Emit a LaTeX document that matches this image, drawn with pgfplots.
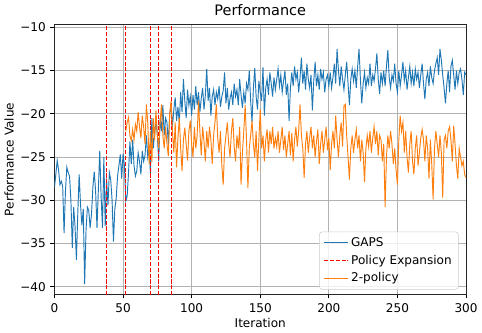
\documentclass[border=0pt]{standalone}
\usepackage{fontspec}
\setmainfont{DejaVu Sans}
\usepackage{pgfplots}
\pgfplotsset{compat=1.18}
\definecolor{tabblue}{HTML}{1F77B4}
\definecolor{taborange}{HTML}{FF7F0E}
\begin{document}
\begin{tikzpicture}
\begin{axis}[
  scale only axis, width=307.5pt, height=201.75pt,
  xmin=0, xmax=300, ymin=-40.9, ymax=-9.65,
  xtick={0,50,...,300}, ytick={-40,-35,...,-10},
  yticklabels={−40,−35,−30,−25,−20,−15,−10},
  /pgf/number format/assume math mode=true,
  tick label style={font=\fontsize{9}{10}\selectfont},
  label style={font=\fontsize{9}{10}\selectfont},
  title style={font=\fontsize{10.8}{12}\selectfont, yshift=-3pt},
  title=Performance, xlabel=Iteration, ylabel=Performance Value,
  xlabel style={yshift=2pt}, ylabel style={yshift=-2pt},
  grid=major, grid style={color=black!30, line width=0.6pt},
  axis line style={line width=0.7pt, black!85}, tick style={black, line width=0.6pt},
  tick align=outside, tick pos=left, major tick length=3pt,
  unbounded coords=jump,
  legend style={at={(0.982,0.018)}, anchor=south east, font=\fontsize{9}{10}\selectfont,
    draw=black!20, rounded corners=2pt, fill=white, fill opacity=0.8, text opacity=1,
    row sep=1pt, inner xsep=3pt, inner ysep=2pt},
  legend cell align=left,
  legend image code/.code={\draw[#1] (0pt,0pt) -- (18pt,0pt);},
]
\addplot[tabblue, line width=0.7pt] table {
0 -28.5
1 -27.0
2 -25.4
3 -26.5
4 -28.2
5 -27.8
6 -28.4
7 -33.8
8 -29.0
9 -26.2
10 -26.8
11 -27.2
12 -30.1
13 -35.5
14 -30.8
15 -33.0
16 -36.9
17 -31.5
18 -27.0
19 -30.5
20 -32.9
21 -31.0
22 -39.7
23 -33.5
24 -30.8
25 -31.2
26 -33.2
27 -31.6
28 -28.5
29 -26.7
30 -29.0
31 -33.2
32 -28.8
33 -24.3
34 -29.5
35 -33.2
36 -25.0
37 -33.0
38 -27.5
39 -30.6
40 -26.8
41 -27.6
42 -30.0
43 -34.8
44 -31.0
45 -29.8
46 -27.2
47 -26.0
48 -24.7
49 -27.5
50 -24.6
51 -26.0
52 -30.1
53 -29.5
54 -26.8
55 -23.2
56 -25.8
57 -23.0
58 -26.0
59 -27.2
60 -26.6
61 -24.5
62 -25.5
63 -27.0
64 -24.3
65 -25.5
66 -24.8
67 -22.5
68 -25.0
69 -24.0
70 -27.0
71 -20.5
72 -24.0
73 -22.3
74 -20.8
75 -22.5
76 -25.5
77 -20.5
78 -22.0
79 -19.0
80 -22.5
81 -20.5
82 -21.0
83 -23.5
84 -20.0
85 -19.0
86 -21.5
87 -19.5
88 -18.1
89 -20.8
90 -19.2
91 -21.0
92 -17.5
93 -19.8
94 -16.0
95 -18.5
96 -20.5
97 -17.2
98 -19.0
99 -18.0
100 -20.2
101 -17.8
102 -19.5
103 -16.8
104 -19.0
105 -17.5
106 -19.8
107 -18.2
108 -17.0
109 -19.5
110 -17.8
111 -14.8
112 -18.5
113 -17.0
114 -20.2
115 -18.0
116 -17.2
117 -19.0
118 -17.5
119 -18.3
120 -16.8
121 -19.2
122 -18.0
123 -17.3
124 -15.2
125 -18.8
126 -17.0
127 -19.5
128 -18.2
129 -17.5
130 -19.0
131 -16.5
132 -18.0
133 -17.2
134 -19.0
135 -16.0
136 -17.8
137 -19.3
138 -17.5
139 -18.8
140 -16.5
141 -17.2
142 -15.0
143 -18.5
144 -21.0
145 -17.0
146 -14.7
147 -18.0
148 -19.5
149 -16.2
150 -17.5
151 -18.5
152 -14.6
153 -20.2
154 -17.0
155 -16.0
156 -17.8
157 -15.2
158 -16.5
159 -18.0
160 -15.8
161 -17.2
162 -16.0
163 -14.8
164 -16.8
165 -15.5
166 -17.5
167 -16.2
168 -15.0
169 -17.8
170 -16.5
171 -20.8
172 -17.0
173 -15.2
174 -16.8
175 -14.5
176 -16.0
177 -15.2
178 -17.5
179 -15.8
180 -13.5
181 -16.5
182 -15.0
183 -17.2
184 -14.2
185 -16.0
186 -17.0
187 -15.5
188 -19.6
189 -16.2
190 -14.0
191 -16.8
192 -15.5
193 -17.2
194 -14.8
195 -16.0
196 -15.2
197 -17.5
198 -16.0
199 -15.5
200 -16.8
201 -15.2
202 -17.0
203 -15.8
204 -14.2
205 -16.5
206 -12.5
207 -15.0
208 -16.8
209 -14.5
210 -16.0
211 -17.2
212 -15.5
213 -14.0
214 -16.5
215 -19.0
216 -16.0
217 -14.8
218 -16.2
219 -15.0
220 -17.0
221 -14.5
222 -12.5
223 -16.0
224 -18.8
225 -16.5
226 -15.2
227 -17.0
228 -15.8
229 -16.5
230 -14.2
231 -16.8
232 -15.5
233 -16.2
234 -14.8
235 -13.0
236 -16.0
237 -17.7
238 -15.2
239 -16.5
240 -15.0
241 -16.8
242 -14.5
243 -12.6
244 -15.8
245 -17.0
246 -15.5
247 -16.2
248 -14.2
249 -16.5
250 -17.5
251 -15.0
252 -16.8
253 -15.5
254 -14.0
255 -16.2
256 -15.0
257 -17.2
258 -15.8
259 -14.5
260 -16.5
261 -15.2
262 -16.8
263 -14.8
264 -16.0
265 -15.2
266 -17.0
267 -15.5
268 -14.2
269 -16.5
270 -18.3
271 -16.0
272 -15.2
273 -16.8
274 -14.5
275 -15.8
276 -16.5
277 -15.0
278 -14.2
279 -13.5
280 -15.5
281 -12.5
282 -13.8
283 -15.5
284 -17.0
285 -18.8
286 -16.5
287 -15.0
288 -17.5
289 -14.5
290 -13.8
291 -15.5
292 -17.2
293 -15.0
294 -16.5
295 -15.2
296 -14.8
297 -16.0
298 -17.8
299 -15.2
300 -15.5
};
\addlegendentry{GAPS}
\addplot[red, line width=0.7pt, dash pattern=on 3pt off 1.4pt] coordinates {
(38,-41) (38,-9) (45,nan)
(52,-41) (52,-9) (60,nan)
(70,-41) (70,-9) (73,nan)
(76,-41) (76,-9) (80,nan)
(85,-41) (85,-9)
};
\addlegendentry{Policy Expansion}
\addplot[taborange, line width=0.7pt] table {
52 -22.0
53 -21.0
54 -20.4
55 -22.5
56 -23.1
57 -21.8
58 -23.0
59 -21.2
60 -22.0
61 -19.8
62 -21.5
63 -22.8
64 -20.2
65 -21.5
66 -23.5
67 -18.9
68 -21.0
69 -25.8
70 -22.0
71 -25.6
72 -20.5
73 -23.0
74 -19.6
75 -22.5
76 -24.0
77 -21.0
78 -18.9
79 -22.5
80 -24.0
81 -21.5
82 -23.5
83 -24.9
84 -20.0
85 -18.5
86 -22.0
87 -24.5
88 -21.0
89 -26.2
90 -22.8
91 -20.5
92 -24.0
93 -26.6
94 -23.0
95 -21.6
96 -23.5
97 -25.4
98 -22.0
99 -20.8
100 -23.5
101 -25.0
102 -21.5
103 -24.0
104 -22.5
105 -18.5
106 -22.0
107 -24.8
108 -21.5
109 -23.2
110 -25.5
111 -22.0
112 -24.0
113 -21.5
114 -23.0
115 -25.8
116 -22.5
117 -21.0
118 -18.9
119 -22.8
120 -24.5
121 -22.0
122 -26.0
123 -28.2
124 -24.0
125 -22.5
126 -21.0
127 -23.5
128 -25.0
129 -22.0
130 -20.5
131 -23.8
132 -25.5
133 -22.5
134 -24.0
135 -21.5
136 -28.2
137 -24.5
138 -22.0
139 -19.0
140 -23.0
141 -28.6
142 -24.0
143 -22.5
144 -20.8
145 -23.5
146 -25.0
147 -22.0
148 -26.6
149 -23.0
150 -19.5
151 -24.0
152 -22.5
153 -25.5
154 -23.0
155 -21.8
156 -24.5
157 -22.0
158 -23.5
159 -21.5
160 -24.0
161 -22.8
162 -23.8
163 -22.0
164 -24.5
165 -23.0
166 -21.5
167 -24.2
168 -22.5
169 -25.0
170 -23.5
171 -22.0
172 -24.8
173 -22.2
174 -25.5
175 -23.0
176 -21.5
177 -23.8
178 -22.0
179 -18.9
180 -22.5
181 -24.0
182 -27.4
183 -23.5
184 -22.0
185 -24.5
186 -22.8
187 -21.5
188 -24.0
189 -22.5
190 -25.0
191 -23.2
192 -21.8
193 -25.8
194 -23.5
195 -22.0
196 -24.5
197 -23.0
198 -21.5
199 -24.2
200 -22.8
201 -26.5
202 -23.5
203 -22.0
204 -24.0
205 -20.2
206 -23.0
207 -25.0
208 -22.5
209 -21.0
210 -23.8
211 -19.1
212 -18.9
213 -22.5
214 -25.0
215 -27.6
216 -24.0
217 -22.5
218 -24.5
219 -23.0
220 -21.8
221 -24.0
222 -22.5
223 -25.5
224 -23.0
225 -24.5
226 -27.9
227 -24.0
228 -22.5
229 -23.8
230 -22.0
231 -24.5
232 -22.8
233 -21.5
234 -23.5
235 -22.0
236 -24.8
237 -22.5
238 -23.0
239 -25.5
240 -23.5
241 -30.8
242 -25.0
243 -22.5
244 -24.0
245 -22.0
246 -23.5
247 -25.8
248 -24.0
249 -26.5
250 -28.2
251 -23.0
252 -20.2
253 -22.0
254 -21.0
255 -24.5
256 -22.0
257 -25.0
258 -26.8
259 -23.5
260 -22.0
261 -25.5
262 -27.0
263 -24.0
264 -22.5
265 -26.0
266 -24.5
267 -22.8
268 -21.8
269 -23.0
270 -25.5
271 -22.5
272 -24.0
273 -27.5
274 -23.0
275 -25.8
276 -29.9
277 -24.0
278 -22.0
279 -23.5
280 -25.0
281 -22.5
282 -24.5
283 -29.7
284 -23.0
285 -22.5
286 -24.0
287 -22.0
288 -21.5
289 -23.0
290 -25.5
291 -21.4
292 -23.5
293 -26.0
294 -27.5
295 -24.0
296 -25.0
297 -26.0
298 -25.5
299 -27.0
300 -27.4
};
\addlegendentry{2-policy}
\end{axis}
\end{tikzpicture}
\end{document}
